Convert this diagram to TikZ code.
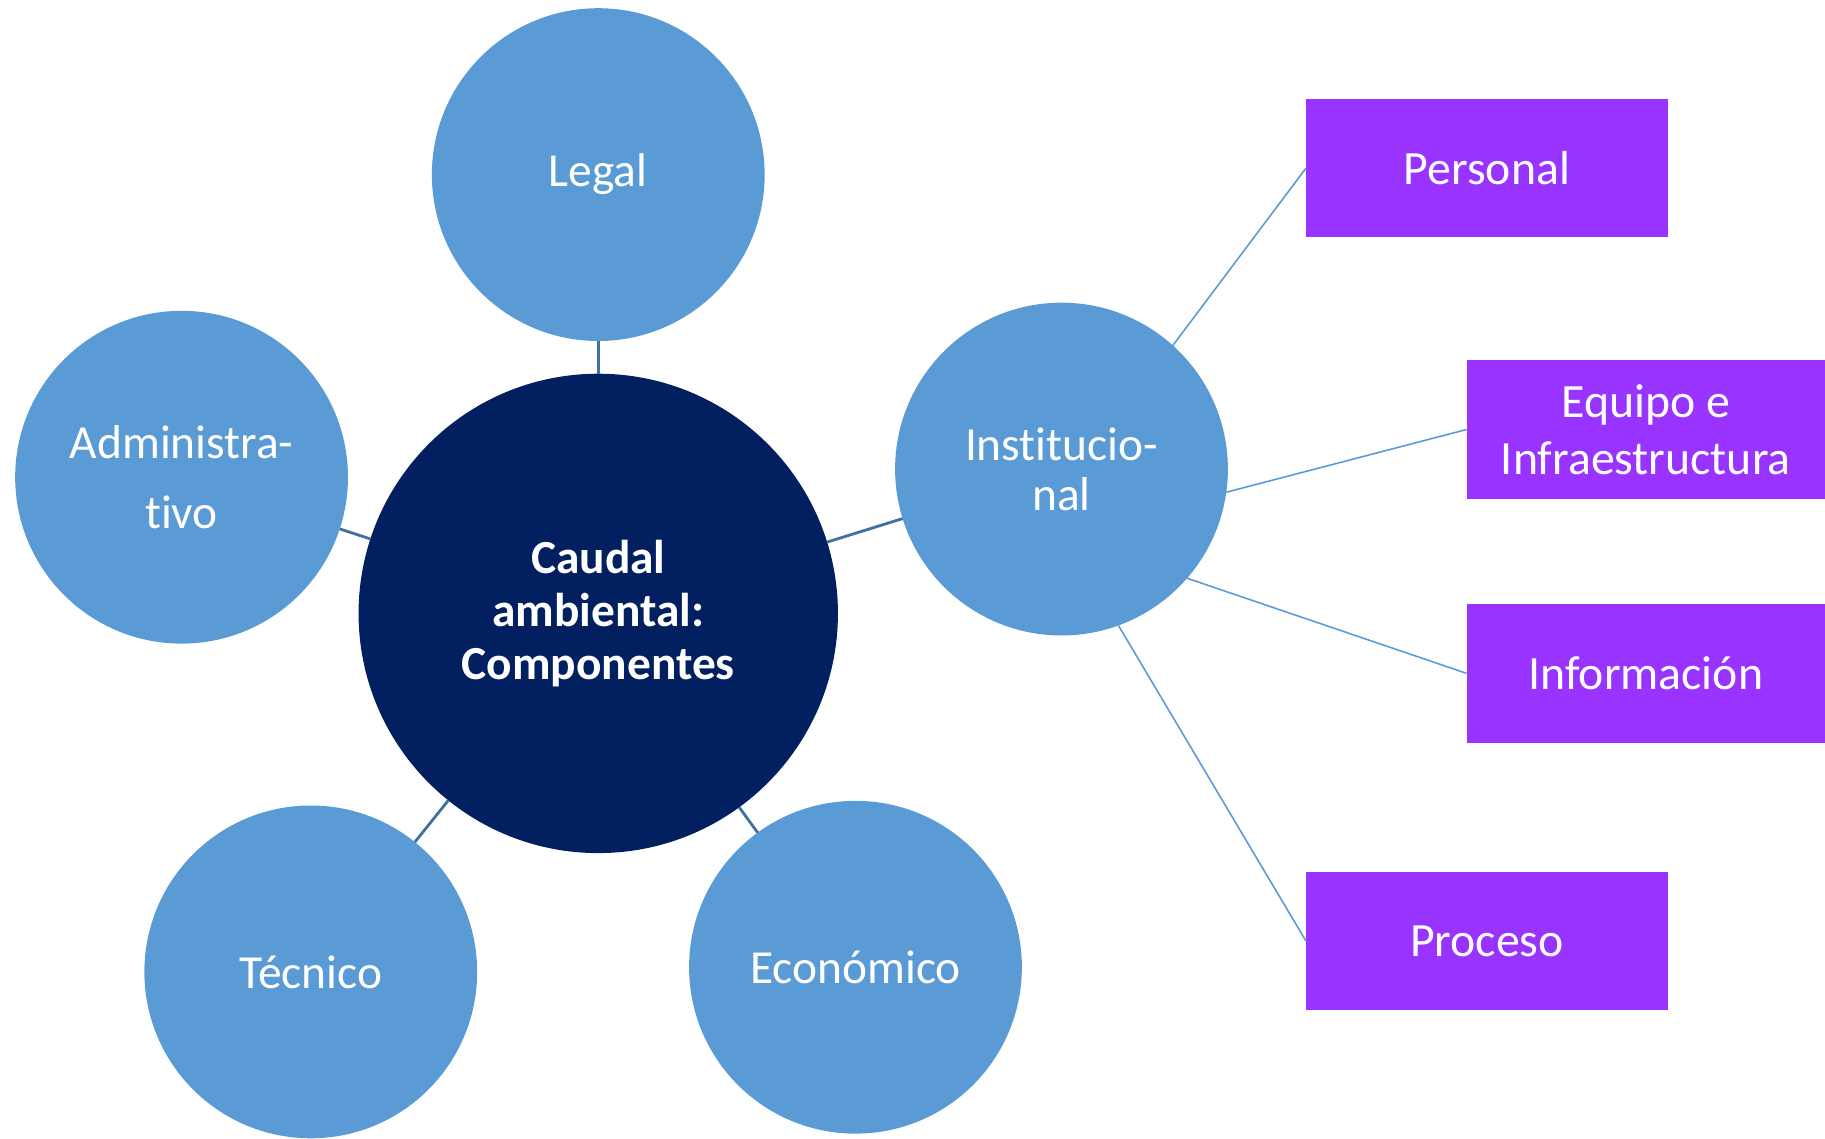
\documentclass[tikz,border=0pt]{standalone}
\usepackage{fontspec}
\setmainfont{Carlito}[Ligatures=NoCommon]
\usepackage{tikz}
\usetikzlibrary{positioning,calc}
\definecolor{CompBlue}{RGB}{91,155,213}
\definecolor{CoreNavy}{RGB}{2,32,96}
\definecolor{ItemPurple}{RGB}{153,51,255}
\definecolor{LinkBlue}{RGB}{65,113,156}
\tikzset{
  comp/.style={circle,fill=CompBlue,draw=none,inner sep=0pt,outer sep=0pt,
    minimum size=3.3288cm,text=white,align=center,font=\fontsize{13.5}{16.2}\selectfont},
  core/.style={circle,fill=CoreNavy,draw=none,inner sep=0pt,outer sep=0pt,
    minimum size=4.795cm,text=white,align=center,font=\fontsize{13.5}{15}\selectfont\bfseries},
  item/.style={rectangle,fill=ItemPurple,draw=none,inner sep=0pt,outer sep=0pt,
    minimum width=3.62cm,minimum height=1.385cm,text=white,align=center,
    font=\fontsize{13.6}{16.2}\selectfont},
  link/.style={draw=LinkBlue,line width=0.8pt},
  sublink/.style={draw=CompBlue,line width=0.45pt},
}

\begin{document}
\begin{tikzpicture}[x=0.011639cm,y=-0.011639cm]
\useasboundingbox (0,0) rectangle (1568,978);
% centre and components
\node[core] (core) at (514,527) {Caudal\\ambiental:\\Componentes};
\node[comp] (legal) at (514,150) {Legal};
\node[comp,font=\fontsize{13.5}{20}\selectfont] (admin) at (156,410) {Administra-\\tivo};
\node[comp,font=\fontsize{13.5}{14.2}\selectfont] (inst) at (912,403) {Institucio-\\nal};
\node[comp] (tecn) at (267,835) {Técnico};
\node[comp] (econ) at (735,831) {Económico};
% institutional parts
\node[item] (pers) at (1277.5,144.5) {Personal};
\node[item,minimum width=3.585cm] (equip) at (1414,369) {Equipo e\\Infraestructura};
\node[item,minimum width=3.585cm] (info) at (1414,578.5) {Información};
\node[item] (proc) at (1277.5,808.5) {Proceso};
\draw[link] (core) -- (legal);
\draw[link] (core) -- (admin);
\draw[link] (core) -- (inst);
\draw[link] (core) -- (tecn);
\draw[link] (core) -- (econ);
\draw[sublink] (inst.48) -- (pers.west);
\draw[sublink] (inst.-8) -- (equip.west);
\draw[sublink] (inst.-41) -- (info.west);
\draw[sublink] (inst.-70) -- (proc.west);
\end{tikzpicture}
\end{document}
